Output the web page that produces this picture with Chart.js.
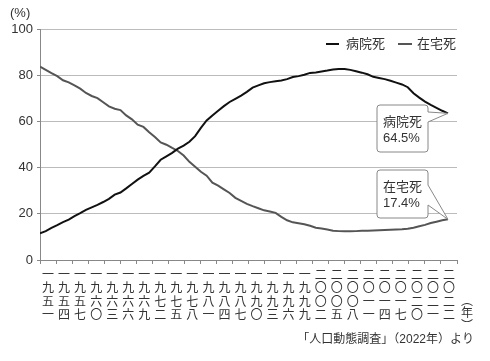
<!DOCTYPE html>
<html><head><meta charset="utf-8">
<script src="https://cdn.jsdelivr.net/npm/chart.js@4"></script>
<style>html,body{margin:0;padding:0;background:#fff}#wrap{width:490px;height:361px}</style>
</head><body><div id="wrap"><canvas id="c" width="490" height="361"></canvas></div>
<script>
const years = [1951,1952,1953,1954,1955,1956,1957,1958,1959,1960,
  1961,1962,1963,1964,1965,1966,1967,1968,1969,1970,
  1971,1972,1973,1974,1975,1976,1977,1978,1979,1980,
  1981,1982,1983,1984,1985,1986,1987,1988,1989,1990,
  1991,1992,1993,1994,1995,1996,1997,1998,1999,2000,
  2001,2002,2003,2004,2005,2006,2007,2008,2009,2010,
  2011,2012,2013,2014,2015,2016,2017,2018,2019,2020,
  2021,2022];
const hospital = [11.6,12.5,13.9,15.1,16.4,17.5,19.0,20.3,21.7,22.8,
  23.9,25.1,26.5,28.3,29.2,31.0,32.9,34.8,36.4,37.8,
  40.5,43.4,44.9,46.4,48.2,49.5,51.2,53.6,57.2,60.4,
  62.6,64.6,66.6,68.4,69.8,71.2,72.8,74.6,75.6,76.5,
  77.0,77.4,77.7,78.3,79.2,79.6,80.2,81.0,81.2,81.6,
  82.0,82.5,82.7,82.7,82.3,81.7,81.1,80.4,79.3,78.8,
  78.3,77.6,76.8,76.0,74.8,72.2,70.3,68.6,67.2,65.9,
  64.6,63.5];
const home = [83.7,82.3,80.9,79.6,77.8,76.9,75.6,74.2,72.3,71.0,
  70.1,68.3,66.5,65.5,64.9,62.6,60.9,58.6,57.6,55.3,
  53.2,50.9,49.9,48.5,47.2,45.2,42.5,40.4,38.2,36.5,
  33.5,32.2,30.6,29.0,26.9,25.6,24.3,23.3,22.4,21.5,
  21.0,20.4,18.7,17.2,16.3,15.9,15.5,14.8,14.0,13.6,
  13.2,12.7,12.5,12.4,12.4,12.5,12.7,12.7,12.8,12.9,
  13.0,13.1,13.2,13.3,13.5,14.0,14.6,15.2,16.0,16.6,
  17.2,17.6];
const tickLabels = ['一九五一','一九五四','一九五七','一九六〇','一九六三','一九六六','一九六九',
  '一九七二','一九七五','一九七八','一九八一','一九八四','一九八七','一九九〇','一九九三',
  '一九九六','一九九九','二〇〇二','二〇〇五','二〇〇八','二〇一一','二〇一四','二〇一七',
  '二〇二〇','二〇二一','二〇二二'];
const seriesNames = ['病院死','在宅死'];
const calloutValues = ['64.5%','17.4%'];
const yUnit = '(%)';
const xUnit = ['︵','年','︶'];
const sourceText = '「人口動態調査」（2022年）より';

const FONT = '"Liberation Sans", "Noto Sans CJK JP", sans-serif';
const HOSP_COLOR = '#111111';
const HOME_COLOR = '#555555';

function callout(ctx, box, notch, tip, lines) {
  const r = 3;
  const {l, t, rr, b} = box;
  ctx.save();
  ctx.beginPath();
  ctx.moveTo(l + r, t);
  ctx.lineTo(rr - r, t);
  ctx.quadraticCurveTo(rr, t, rr, t + r);
  ctx.lineTo(rr, notch[0]);
  ctx.lineTo(tip.x, tip.y);
  ctx.lineTo(rr, notch[1]);
  ctx.lineTo(rr, b - r);
  ctx.quadraticCurveTo(rr, b, rr - r, b);
  ctx.lineTo(l + r, b);
  ctx.quadraticCurveTo(l, b, l, b - r);
  ctx.lineTo(l, t + r);
  ctx.quadraticCurveTo(l, t, l + r, t);
  ctx.closePath();
  ctx.fillStyle = '#fff';
  ctx.fill();
  ctx.strokeStyle = '#888';
  ctx.lineWidth = 1;
  ctx.stroke();
  ctx.fillStyle = '#333';
  ctx.font = '13px ' + FONT;
  ctx.textAlign = 'left';
  ctx.textBaseline = 'middle';
  ctx.fillText(lines[0], l + 6, t + 17);
  ctx.fillText(lines[1], l + 6, t + 33);
  ctx.restore();
}

const annot = {
  id: 'annot',
  afterDatasetsDraw(chart) {
    const ctx = chart.ctx;
    const xs = chart.scales.xd, ys = chart.scales.y;
    const last = years[years.length - 1];
    const tipH = {x: xs.getPixelForValue(last), y: ys.getPixelForValue(hospital[hospital.length - 1])};
    const tipR = {x: xs.getPixelForValue(last), y: ys.getPixelForValue(home[home.length - 1])};
    callout(ctx, {l: 377, t: 105, rr: 428, b: 152}, [112, 122], tipH, [seriesNames[0], calloutValues[0]]);
    callout(ctx, {l: 377, t: 170, rr: 428, b: 218}, [185, 205], tipR, [seriesNames[1], calloutValues[1]]);
  },
  afterDraw(chart) {
    const ctx = chart.ctx;
    ctx.save();
    ctx.textBaseline = 'middle';
    // legend
    ctx.lineWidth = 2;
    ctx.strokeStyle = HOSP_COLOR;
    ctx.beginPath(); ctx.moveTo(326, 44); ctx.lineTo(339, 44); ctx.stroke();
    ctx.strokeStyle = HOME_COLOR;
    ctx.beginPath(); ctx.moveTo(398, 44); ctx.lineTo(412, 44); ctx.stroke();
    ctx.fillStyle = '#333';
    ctx.font = '13px ' + FONT;
    ctx.textAlign = 'left';
    ctx.fillText(seriesNames[0], 346, 44);
    ctx.fillText(seriesNames[1], 417, 44);
    // y unit
    ctx.font = '13px ' + FONT;
    ctx.fillText(yUnit, 10, 13);
    // x unit
    ctx.font = '12px ' + FONT;
    ctx.textAlign = 'center';
    ctx.fillText(xUnit[0], 467, 301.5);
    ctx.fillText(xUnit[1], 467, 314);
    ctx.fillText(xUnit[2], 467, 326.5);
    // source
    ctx.textAlign = 'right';
    ctx.font = '12px ' + FONT;
    ctx.fillText(sourceText, 474, 340);
    ctx.restore();
  }
};

new Chart(document.getElementById('c'), {
  type: 'line',
  data: {
    labels: tickLabels,
    datasets: [
      {label: seriesNames[0], data: years.map((y, i) => ({x: y, y: hospital[i]})), xAxisID: 'xd',
       borderColor: HOSP_COLOR, borderWidth: 2, pointRadius: 0, tension: 0, fill: false},
      {label: seriesNames[1], data: years.map((y, i) => ({x: y, y: home[i]})), xAxisID: 'xd',
       borderColor: HOME_COLOR, borderWidth: 2, pointRadius: 0, tension: 0, fill: false}
    ]
  },
  options: {
    responsive: false,
    animation: false,
    devicePixelRatio: 1,
    layout: {padding: {top: 29, right: 33, left: 0, bottom: 0}},
    plugins: {legend: {display: false}, tooltip: {enabled: false}},
    scales: {
      xd: {type: 'linear', display: false, min: 1951, max: 2023.57},
      x: {
        type: 'category',
        offset: true,
        afterFit(s) { s.height = 101; },
        grid: {offset: true, drawOnChartArea: false, drawTicks: true, tickLength: 4, color: '#888'},
        border: {display: true, color: '#888', width: 1},
        ticks: {
          autoSkip: false, maxRotation: 0, minRotation: 0, padding: 5, color: '#333',
          font: {family: FONT, size: 12, lineHeight: 1.12},
          callback(v, i) { return tickLabels[i].split(''); }
        }
      },
      y: {
        min: 0, max: 100,
        afterFit(s) { s.width = 40; },
        grid: {color: '#bbb', borderDash: [4, 3], tickLength: 3, tickColor: '#888', tickBorderDash: [],
               drawTicks: true},
        border: {display: true, color: '#888', width: 1},
        ticks: {stepSize: 20, padding: 4, color: '#333', font: {family: FONT, size: 13}}
      }
    }
  },
  plugins: [annot]
});
</script>
</body></html>
